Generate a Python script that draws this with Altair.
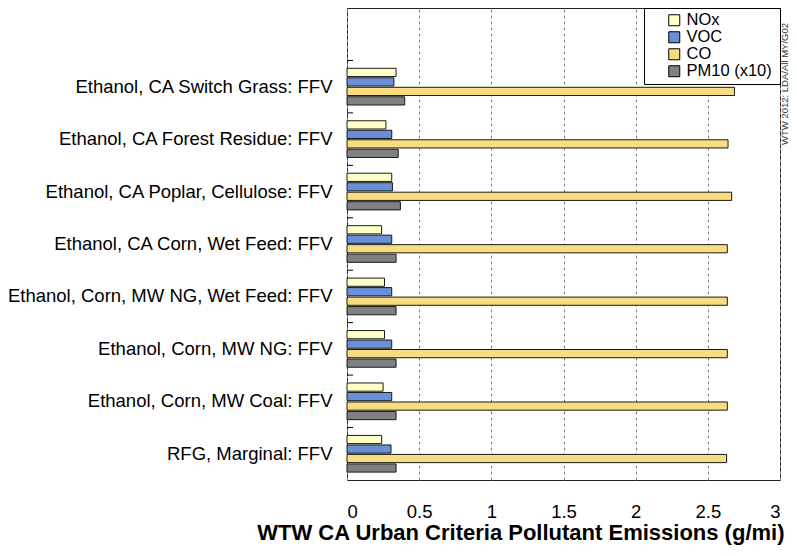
import altair as alt
import pandas as pd

categories = [
    "Ethanol, CA Switch Grass: FFV",
    "Ethanol, CA Forest Residue: FFV",
    "Ethanol, CA Poplar, Cellulose: FFV",
    "Ethanol, CA Corn, Wet Feed: FFV",
    "Ethanol, Corn, MW NG, Wet Feed: FFV",
    "Ethanol, Corn, MW NG: FFV",
    "Ethanol, Corn, MW Coal: FFV",
    "RFG, Marginal: FFV",
]
series = ["NOx", "VOC", "CO", "PM10 (x10)"]
nox = [0.34, 0.27, 0.31, 0.24, 0.26, 0.26, 0.25, 0.24]
voc = [0.325, 0.31, 0.315, 0.31, 0.31, 0.31, 0.31, 0.305]
co = [2.685, 2.64, 2.665, 2.635, 2.635, 2.635, 2.635, 2.63]
pm10 = [0.40, 0.355, 0.37, 0.34, 0.34, 0.34, 0.34, 0.34]
colors = ["#ffffc8", "#6a8fd6", "#f7dc80", "#808080"]
x_ticks = [0, 0.5, 1, 1.5, 2, 2.5, 3]
note = "WTW 2012: LDA/All MY/G02"
x_title = "WTW CA Urban Criteria Pollutant Emissions (g/mi)"

rows = []
for i, c in enumerate(categories):
    for s, vals in zip(series, [nox, voc, co, pm10]):
        rows.append({"pathway": c, "pollutant": s, "value": vals[i]})
df = pd.DataFrame(rows)
ticks_df = pd.DataFrame({"pathway": categories})
note_df = pd.DataFrame({"note": [note]})

y_domain = [" "] + categories
FONT = "Liberation Sans"

y_enc = alt.Y(
    "pathway:N",
    scale=alt.Scale(domain=y_domain, paddingInner=0, paddingOuter=0),
    axis=alt.Axis(
        title=None, ticks=False, domain=False, labelFontSize=18.5,
        labelColor="black", labelPadding=15, labelFont=FONT, labelLimit=345,
    ),
)

bars = alt.Chart(df).mark_bar(stroke="#1a1a1a", strokeWidth=1).encode(
    x=alt.X(
        "value:Q", stack=None,
        scale=alt.Scale(domain=[0, 3], nice=False),
        axis=alt.Axis(
            values=x_ticks, format="~g", title=x_title, ticks=False, domain=False,
            labelFontSize=18.5, labelColor="black", labelPadding=22, labelFont=FONT,
            grid=True, gridColor="#808080", gridDash=[3, 3], gridWidth=1,
            titleFontSize=22, titleFontWeight="bold", titleFont=FONT,
            titleColor="black", titlePadding=2, titleAlign="right", titleX=437,
        ),
    ),
    y=y_enc,
    yOffset=alt.YOffset(
        "pollutant:N", sort=series,
        scale=alt.Scale(domain=series, paddingInner=0.135, paddingOuter=0.83),
    ),
    color=alt.Color(
        "pollutant:N",
        scale=alt.Scale(domain=series, range=colors),
        legend=alt.Legend(
            title="\u00a0", titleOrient="right", titlePadding=4, titleFontSize=16,
            orient="none", legendX=297, legendY=0,
            strokeColor="black", fillColor="white", padding=4,
            symbolType="square", symbolSize=121, symbolStrokeColor="black",
            symbolStrokeWidth=1, symbolOffset=18, labelOffset=4,
            labelFontSize=16.5, labelFont=FONT, labelColor="black",
            rowPadding=0, cornerRadius=0,
        ),
    ),
)

tick_marks = alt.Chart(ticks_df).mark_rule(color="black", strokeWidth=1).encode(
    y=alt.Y("pathway:N", bandPosition=0, scale=alt.Scale(domain=y_domain)),
    x=alt.value(0),
    x2=alt.value(6),
)

note_text = alt.Chart(note_df).mark_text(
    angle=270, fontSize=9.5, font=FONT, color="#333333", align="center", baseline="middle"
).encode(
    text="note:N",
    x=alt.value(438),
    y=alt.value(76),
)

chart = alt.layer(bars, tick_marks, note_text).properties(
    width=433,
    height=472,
    autosize=alt.AutoSizeParams(type="none"),
    padding={"left": 339, "top": 0, "right": 9, "bottom": 68},
).configure_view(stroke="#222222", strokeWidth=1)

chart.save("out.html", embed_options={"renderer": "svg", "actions": False})
